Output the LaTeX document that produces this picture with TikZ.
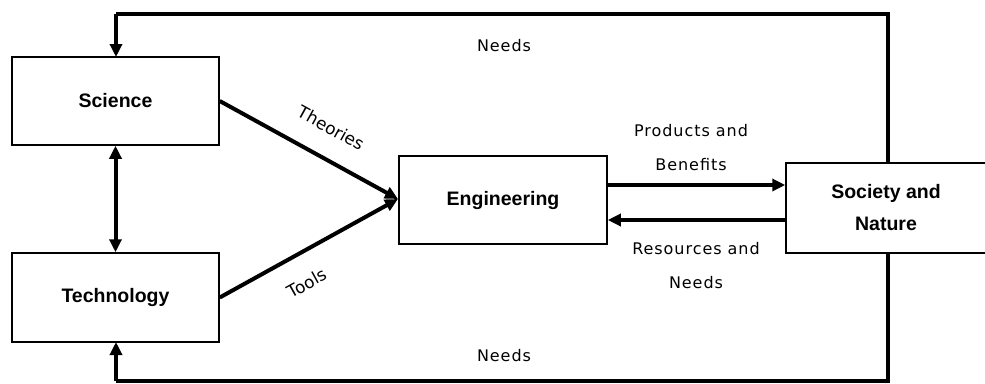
\documentclass[tikz,border=0pt]{standalone}
\usepackage{fontspec}
\usetikzlibrary{arrows.meta}
\newfontfamily\boxfont{Liberation Sans}
\newfontfamily\lblfont[LetterSpace=6]{DejaVu Sans}
\newfontfamily\rotfont{DejaVu Sans}
\begin{document}
\begin{tikzpicture}[x=1pt,y=-1pt,
  blk/.style={draw=black,line width=1.5pt,fill=white,inner sep=0pt,align=center,
    font=\boxfont\fontsize{19.5}{32}\selectfont\bfseries},
  lbl/.style={font=\lblfont\fontsize{16}{34}\selectfont,align=center,inner sep=0pt},
  rlbl/.style={font=\rotfont\fontsize{17}{20}\selectfont,inner sep=0pt},
  flow/.style={line width=4pt,-{Triangle[length=13pt,width=12pt]}},
  loop/.style={line width=4pt}]
\useasboundingbox (0,0) rectangle (985,383);
\node[blk,minimum width=207pt,minimum height=88pt] (sci) at (115.5,101) {Science};
\node[blk,minimum width=207pt,minimum height=89pt] (tech) at (115.5,297.5) {Technology};
\node[blk,minimum width=208pt,minimum height=88pt] (eng) at (503,200) {Engineering};
\coordinate (loopTR) at (888,14);
\coordinate (loopBR) at (888,381);
\coordinate (loopTL) at (116,14);
\coordinate (loopBL) at (116,381);
\draw[loop] (888,163) -- (loopTR) -- (loopTL);
\draw[loop] (888,253) -- (loopBR) -- (loopBL);
\node[blk,minimum width=200pt,minimum height=90pt] (soc) at (886,208) {Society and\\Nature};
\draw[flow] (loopTL) -- (116,57) coordinate (scitop);
\draw[flow] (loopBL) -- (116,342) coordinate (techbot);
\draw[line width=4pt,{Triangle[length=13pt,width=12pt]}-{Triangle[length=13pt,width=12pt]}] (sci.south) -- (tech.north);
\coordinate (engin) at (398,199);
\draw[flow] (sci.east) -- (engin);
\draw[flow] (tech.east) -- (engin);
\draw[flow] (eng.east |- 0,185) -- (soc.west |- 0,185);
\draw[flow] (soc.west |- 0,220) -- (eng.east |- 0,220);
\node[lbl] (n1) at (504,46) {Needs};
\node[lbl] (n2) at (504,356) {Needs};
\node[lbl] (pb) at (691,148) {Products and\\Benefits};
\node[lbl] (rn) at (696,266) {Resources and\\Needs};
\node[rlbl,rotate=-29] (th) at (331,128) {Theories};
\node[rlbl,rotate=29] (tl) at (307,283) {Tools};
\end{tikzpicture}
\end{document}
